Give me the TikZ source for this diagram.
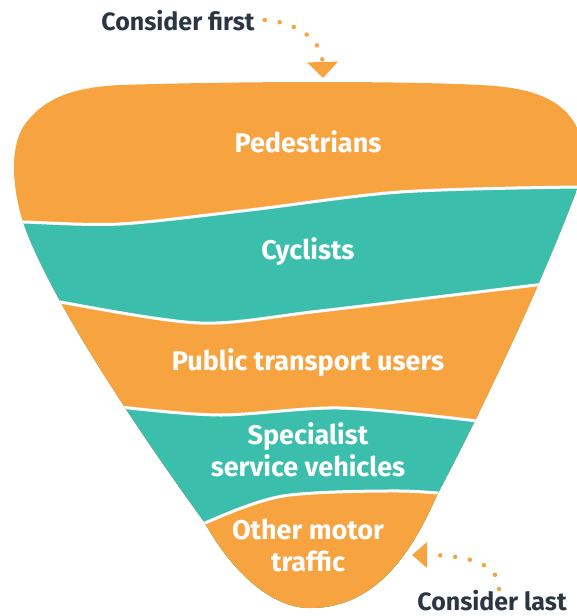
\documentclass[tikz,border=0pt]{standalone}
\usepackage{fontspec}
\setmainfont{Fira Sans}
\usepackage{xcolor}
\usepackage{tikz}
\usetikzlibrary{arrows.meta}
\usetikzlibrary{positioning}
\definecolor{funnelorange}{HTML}{F7A440}
\definecolor{funnelteal}{HTML}{3BBEAB}
\definecolor{notedark}{HTML}{2C3542}
\tikzstyle{bandlabel}=[text=white,font=\bfseries\fontsize{27}{32}\selectfont,align=center,anchor=base,inner sep=0pt]
\tikzstyle{notelabel}=[text=notedark,font=\bfseries\fontsize{25}{29}\selectfont,anchor=base,inner sep=0pt]
\tikzstyle{dotpath}=[draw=funnelorange,line width=4.5pt,line cap=round,dash pattern=on 0pt off 15pt]
\tikzstyle{bandedge}=[draw=white,line width=3pt]

\begin{document}
\begin{tikzpicture}[x=1pt,y=-1pt]

  \useasboundingbox (0,0) rectangle (577,616);

  % funnel body, bands layered from top to bottom
  \begin{scope}
    \clip (22,219) .. controls (12,185) and (8,140) .. (30,118)
          .. controls (50,95) and (80,87) .. (120,85)
          .. controls (250,81) and (400,81) .. (480,85)
          .. controls (545,88) and (575,105) .. (585,150) -- (585,185) -- (578,187)
          .. controls (545,275) and (490,395) .. (437,495)
          .. controls (415,545) and (380,608) .. (310,608)
          .. controls (265,608) and (225,560) .. (205,523)
          .. controls (130,420) and (45,290) .. cycle;

    \fill[funnelorange] (-10,0) rectangle (600,650);

    \path[bandedge,fill=funnelteal] plot[smooth] coordinates {(-10,221) (23,222) (120,224) (250,210) (400,192) (577,187) (600,189)}
          -- (600,650) -- (-10,650) -- cycle;
    \path[bandedge,fill=funnelorange] plot[smooth] coordinates {(20,292) (60,302) (200,323) (320,311) (545,284) (600,279)}
          -- (600,650) -- (-10,650) -- cycle;
    \path[bandedge,fill=funnelteal] plot[smooth] coordinates {(80,400) (120,407) (220,415) (340,408) (478,421) (520,428)}
          -- (600,650) -- (-10,650) -- cycle;
    \path[bandedge,fill=funnelorange] plot[smooth] coordinates {(180,540) (205,523) (283,496) (400,491) (480,497)}
          -- (600,650) -- (-10,650) -- cycle;
  \end{scope}

  \foreach \x/\y/\name/\label in {308/152/ped/Pedestrians, 308/259/cyc/Cyclists, 308/370/pub/Public transport users,
                                  308/476/spec/{Specialist\\service vehicles}, 308/571/other/{Other motor\\traffic}}
          \node[bandlabel] (\name) at (\x,\y) {\label};

  \node[notelabel] (first) at (178,30) {Consider first};
  \node[notelabel] (last) at (492,610) {Consider last};

  \coordinate (firsttip) at (323,78);
  \coordinate (lasttip) at (412,555);

  \draw[dotpath,-{Triangle[width=30pt,length=16pt]}] ([xshift=10pt]first.east) .. controls (297,22) and (322,40) .. (firsttip);
  \draw[dotpath,-{Triangle[width=25pt,length=15pt]}] ([xshift=7pt,yshift=21pt]last.base) .. controls (500,565) and (470,555) .. (lasttip);

\end{tikzpicture}
\end{document}
